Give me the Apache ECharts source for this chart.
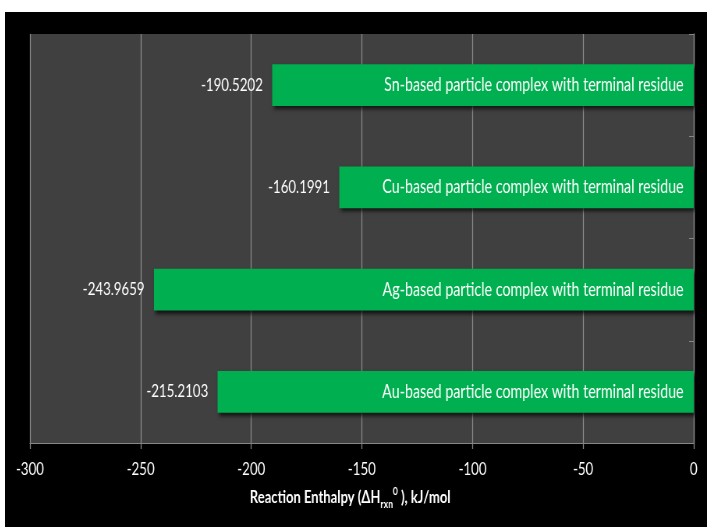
<!DOCTYPE html>
<html>
<head>
<meta charset="utf-8">
<style>
  html, body { margin: 0; padding: 0; background: #ffffff; overflow: hidden; }
  /* The chart is laid out wide and then narrowed horizontally, giving tall, condensed lettering */
  #chart {
    position: absolute; left: 5px; top: 12px;
    width: 900px; height: 515px;
    transform: scaleX(0.78); transform-origin: 0 0;
  }
</style>
<script src="https://cdn.jsdelivr.net/npm/echarts@6/dist/echarts.min.js"></script>
</head>
<body>
<div id="chart"></div>
<script>
// Categories listed bottom to top (category axis starts at the bottom)
const categories = [
  'Au-based particle complex with terminal residue',
  'Ag-based particle complex with terminal residue',
  'Cu-based particle complex with terminal residue',
  'Sn-based particle complex with terminal residue'
];
// Reaction enthalpy values, kJ/mol
const enthalpy = [-215.2103, -243.9659, -160.1991, -190.5202];
// Value axis range and step
const axisMin = -300;
const axisMax = 0;
const axisStep = 50;

const FONT = "Lato, 'Open Sans', 'Liberation Sans', sans-serif";
const TEXT = '#ffffff';
const LINE = '#868686';
const VLINE_W = 1.28; // vertical strokes are narrowed by the horizontal scale

const chart = echarts.init(document.getElementById('chart'), null, { renderer: 'canvas' });

chart.setOption({
  backgroundColor: '#000000',
  animation: false,
  textStyle: { fontFamily: FONT },
  grid: { left: 32, right: 17, top: 22, bottom: 84, show: true, backgroundColor: '#404040', borderWidth: 0 },
  xAxis: {
    type: 'value',
    min: axisMin,
    max: axisMax,
    interval: axisStep,
    axisLine: { show: true, onZero: false, lineStyle: { color: LINE, width: 1 } },
    axisTick: { show: true, length: 6, lineStyle: { color: LINE, width: VLINE_W } },
    splitLine: { show: true, lineStyle: { color: '#8a8a8a', width: VLINE_W } },
    axisLabel: { color: TEXT, fontSize: 17, fontFamily: FONT, margin: 18 },
    name: 'Reaction Enthalpy (ΔH{sub|rxn}{sup|0} ), kJ/mol',
    nameLocation: 'middle',
    nameGap: 43,
    nameTextStyle: {
      color: TEXT,
      fontFamily: FONT,
      fontWeight: 'bold',
      fontSize: 16.7,
      lineHeight: 24,
      padding: [0, 30, 0, 0],
      rich: {
        sub: { fontSize: 11, fontWeight: 'bold', color: TEXT, fontFamily: FONT, verticalAlign: 'bottom', lineHeight: 11 },
        sup: { fontSize: 11, fontWeight: 'bold', color: TEXT, fontFamily: FONT, verticalAlign: 'top', lineHeight: 11 }
      }
    }
  },
  yAxis: {
    type: 'category',
    data: categories,
    position: 'right',
    axisLine: { show: true, lineStyle: { color: LINE, width: VLINE_W } },
    axisTick: { show: true, inside: true, length: 6, lineStyle: { color: LINE } },
    axisLabel: { show: false },
    splitLine: { show: false }
  },
  series: [
    {
      type: 'bar',
      data: enthalpy,
      barCategoryGap: '59%',
      itemStyle: {
        color: '#00b050',
        shadowColor: 'rgba(0,0,0,0.7)',
        shadowBlur: 4,
        shadowOffsetX: 2,
        shadowOffsetY: 3
      },
      label: {
        show: true,
        position: 'left',
        distance: 12,
        color: TEXT,
        fontFamily: FONT,
        fontSize: 17,
        formatter: p => p.value.toFixed(4)
      }
    },
    {
      type: 'bar',
      data: enthalpy,
      barGap: '-100%',
      barCategoryGap: '59%',
      itemStyle: { color: 'rgba(0,0,0,0)' },
      label: {
        show: true,
        position: 'insideRight',
        distance: 13,
        color: TEXT,
        fontFamily: FONT,
        fontSize: 18.3,
        formatter: p => p.name
      },
      silent: true
    }
  ]
});
</script>
</body>
</html>
